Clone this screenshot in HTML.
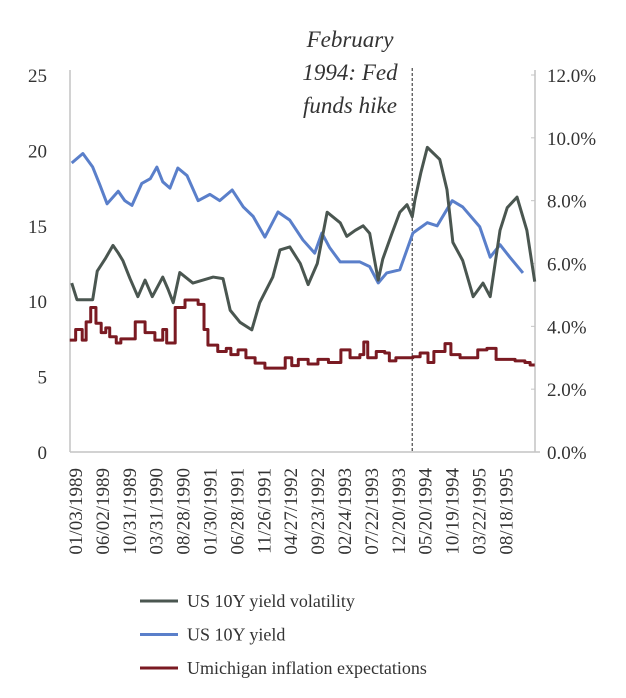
<!DOCTYPE html>
<html><head><meta charset="utf-8"><style>
body{margin:0;background:#fff;}
svg text{font-family:"Liberation Serif",serif;fill:#333;}
</style></head><body>
<svg id="chart" width="626" height="693" xmlns="http://www.w3.org/2000/svg">
<g id="axes"></g><g id="series"></g><g id="legend"></g>
</svg>
<script>
// ---- data ----
const xTickLabels=["01/03/1989","06/02/1989","10/31/1989","03/31/1990","08/28/1990","01/30/1991","06/28/1991","11/26/1991","04/27/1992","09/23/1992","02/24/1993","07/22/1993","12/20/1993","05/20/1994","10/19/1994","03/22/1995","08/18/1995"];
const leftTicks=[0,5,10,15,20,25];
const rightTicks=[0,2,4,6,8,10,12];
const volT=[1988.95,1989.03,1989.27,1989.34,1989.46,1989.58,1989.66,1989.73,1989.84,1989.96,1990.07,1990.18,1990.34,1990.42,1990.50,1990.60,1990.80,1991.11,1991.26,1991.37,1991.52,1991.70,1991.82,1992.02,1992.13,1992.28,1992.44,1992.56,1992.70,1992.85,1993.05,1993.15,1993.28,1993.40,1993.50,1993.63,1993.70,1993.84,1993.96,1994.07,1994.15,1994.19,1994.28,1994.38,1994.57,1994.68,1994.77,1994.92,1995.08,1995.23,1995.34,1995.49,1995.60,1995.75,1995.90,1996.02];
const volV=[11.2,10.1,10.1,12.0,12.8,13.7,13.2,12.7,11.5,10.3,11.4,10.3,11.6,10.8,9.9,11.9,11.2,11.6,11.5,9.4,8.6,8.1,9.9,11.6,13.4,13.6,12.5,11.1,12.5,15.9,15.2,14.3,14.7,15.0,14.5,11.4,12.8,14.5,15.9,16.4,15.6,16.7,18.5,20.2,19.4,17.4,13.9,12.7,10.3,11.2,10.3,14.7,16.2,16.9,14.7,11.3];
const yldT=[1988.95,1989.12,1989.27,1989.38,1989.49,1989.66,1989.76,1989.87,1990.02,1990.15,1990.25,1990.34,1990.45,1990.57,1990.71,1990.88,1991.06,1991.21,1991.40,1991.57,1991.72,1991.90,1992.10,1992.28,1992.48,1992.66,1992.77,1992.89,1993.05,1993.35,1993.50,1993.63,1993.76,1993.96,1994.16,1994.38,1994.53,1994.76,1994.92,1995.18,1995.34,1995.49,1995.64,1995.84];
const yldV=[9.2,9.5,9.07,8.5,7.9,8.3,8.0,7.85,8.55,8.7,9.07,8.6,8.4,9.04,8.8,8.0,8.2,8.0,8.34,7.8,7.5,6.84,7.64,7.38,6.75,6.33,6.97,6.5,6.05,6.05,5.9,5.38,5.7,5.8,6.97,7.3,7.2,8.0,7.8,7.17,6.2,6.6,6.2,5.7];
const infT=[1988.92,1989.01,1989.11,1989.17,1989.24,1989.32,1989.40,1989.47,1989.53,1989.63,1989.70,1989.92,1990.07,1990.22,1990.34,1990.40,1990.53,1990.68,1990.88,1990.97,1991.03,1991.18,1991.31,1991.38,1991.49,1991.61,1991.75,1991.90,1992.21,1992.31,1992.41,1992.56,1992.71,1992.87,1993.06,1993.20,1993.35,1993.41,1993.47,1993.60,1993.73,1993.80,1993.90,1994.16,1994.27,1994.39,1994.48,1994.65,1994.74,1994.88,1995.15,1995.29,1995.43,1995.72,1995.87,1995.95,1996.02];
const infV=[3.56,3.9,3.56,4.14,4.6,4.1,3.8,3.95,3.67,3.47,3.6,4.14,3.8,3.56,3.9,3.47,4.6,4.84,4.7,3.9,3.4,3.2,3.3,3.1,3.25,3.0,2.83,2.67,3.0,2.75,2.95,2.8,2.95,2.85,3.25,3.0,3.1,3.5,3.0,3.2,3.15,2.9,3.0,3.03,3.15,2.85,3.2,3.45,3.1,3.0,3.25,3.3,2.95,2.9,2.85,2.77,2.77];
const fedHikeT=1994.15;
// ---- scales ----
const X0=70,X1=535,Y0=452,Y1=75;
const xS=t=>75+(t-1989)/0.01527;
const yL=v=>Y0-(v/25)*(Y0-Y1);
const yR=v=>Y0-(v/12)*(Y0-Y1);
const NS="http://www.w3.org/2000/svg";
function mk(tag,attrs,parent,txt){const e=document.createElementNS(NS,tag);for(const k in attrs)e.setAttribute(k,attrs[k]);if(txt!==undefined)e.textContent=txt;parent.appendChild(e);return e;}
const axes=document.getElementById('axes'),ser=document.getElementById('series'),leg=document.getElementById('legend');
let e;
e=mk('line',{x1:X0,y1:Y1-5,x2:X0,y2:Y0,stroke:'#c4c4c4','stroke-width':1.5},axes);

e=mk('line',{x1:X1,y1:Y1-5,x2:X1,y2:Y0,stroke:'#c4c4c4','stroke-width':1.5},axes);

e=mk('line',{x1:X0,y1:Y0,x2:X1+5,y2:Y0,stroke:'#c4c4c4','stroke-width':1.5},axes);

leftTicks.forEach(v=>{e=mk('text',{x:47,y:yL(v)+7,'text-anchor':'end','font-size':19},axes,String(v));
});
rightTicks.forEach(v=>{mk('line',{x1:X1-4,y1:yR(v),x2:X1,y2:yR(v),stroke:'#c4c4c4'},axes);
e=mk('text',{x:547,y:yR(v)+7,'font-size':19},axes,v.toFixed(1)+'%');
});
xTickLabels.forEach((s,i)=>{const x=75+i*26.9;
e=mk('text',{transform:`translate(${x+7},468) rotate(-90)`,'text-anchor':'end','font-size':19},axes,s);
});
e=mk('line',{x1:xS(fedHikeT),y1:68,x2:xS(fedHikeT),y2:Y0,stroke:'#555','stroke-width':1.3,'stroke-dasharray':'3,2'},axes);

["February","1994: Fed","funds hike"].forEach((s,i)=>{e=mk('text',{x:350,y:47+i*33,'text-anchor':'middle','font-size':23,'font-style':'italic'},axes,s);
});
function line(T,V,ys,col,step){let d='';T.forEach((t,i)=>{const x=xS(t),y=ys(V[i]);
if(i===0)d+=`M${x},${y}`;else if(step)d+=`H${x}V${y}`;else d+=`L${x},${y}`;});
return mk('path',{d:d,fill:'none',stroke:col,'stroke-width':3,'stroke-linejoin':'round'},ser);}
e=line(infT,infV,yR,'#7a1a22',true);

e=line(yldT,yldV,yR,'#5a7fca',false);

e=line(volT,volV,yL,'#4a5650',false);

const legItems=[["US 10Y yield volatility","#4a5650"],["US 10Y yield","#5a7fca"],["Umichigan inflation expectations","#7a1a22"]];
legItems.forEach((it,i)=>{const y=601+i*33.5;
e=mk('line',{x1:140,y1:y,x2:178,y2:y,stroke:it[1],'stroke-width':3},leg);

e=mk('text',{x:187,y:y+6,'font-size':18},leg,it[0]);
});
</script>
</body></html>
